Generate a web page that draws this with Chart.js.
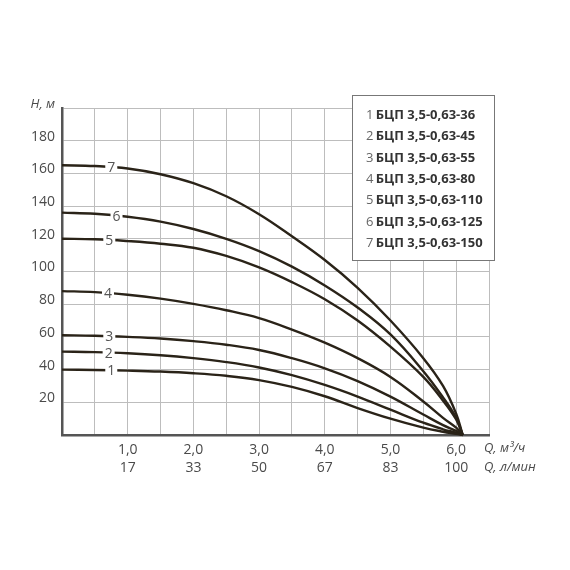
<!DOCTYPE html>
<html>
<head>
<meta charset="utf-8">
<script src="https://cdn.jsdelivr.net/npm/chart.js@4.4.0/dist/chart.umd.min.js"></script>
<style>
  html, body { margin: 0; padding: 0; background: #fff; }
  #wrap { width: 570px; height: 570px; }
</style>
</head>
<body>
<div id="wrap"><canvas id="pumpChart"></canvas></div>
<script>
// Q, m3/h
const flow = [0, 0.5, 1, 1.5, 2, 2.5, 3, 3.5, 4, 4.5, 5, 5.5, 5.8, 6.0, 6.1];
// H, m for each pump
const head1 = [40, 39.8, 39.4, 38.8, 37.8, 36.2, 33.6, 29.4, 23.7, 16.5, 10, 4.5, 2, 0.7, 0];
const head2 = [51, 50.7, 50, 48.8, 47, 44.6, 41.3, 36.6, 30.6, 23.5, 15.5, 7.5, 3.5, 1.3, 0];
const head3 = [61, 60.7, 60, 59, 57.4, 55.2, 52, 47, 40.8, 33, 23.5, 12.5, 6, 2.5, 0];
const head4 = [88, 87.4, 85.8, 83.4, 80.2, 76.3, 71.5, 64.5, 56.5, 47, 35.5, 20.5, 10.5, 4.5, 0];
const head5 = [120, 119.7, 118.6, 117, 114.5, 109.5, 102.5, 93.5, 83, 70, 54, 35.5, 21, 9.5, 0];
const head6 = [136, 135.3, 133.5, 130.5, 126, 120, 112.5, 103, 91.5, 78, 61.5, 39, 23, 10.5, 0];
const head7 = [165, 164.5, 163, 159.5, 154, 146, 135, 121.5, 107, 90, 70, 47, 30, 13, 0];

const models = [
  "БЦП 3,5-0,63-36",
  "БЦП 3,5-0,63-45",
  "БЦП 3,5-0,63-55",
  "БЦП 3,5-0,63-80",
  "БЦП 3,5-0,63-110",
  "БЦП 3,5-0,63-125",
  "БЦП 3,5-0,63-150"
];
// where the curve number sits (Q)
const labelFlow = [0.75, 0.71, 0.72, 0.7, 0.72, 0.83, 0.75];

const flowTicks = [1, 2, 3, 4, 5, 6];
const flowLpm = ["17", "33", "50", "67", "83", "100"];

const heads = [head1, head2, head3, head4, head5, head6, head7];
const lineColor = "#2a2318";
const textColor = "#4a4a4a";
const fontName = "'Open Sans', 'DejaVu Sans', sans-serif";

function headAt(h, q) {
  for (let i = 0; i < flow.length - 1; i++) {
    if (q >= flow[i] && q <= flow[i + 1]) {
      const t = (q - flow[i]) / (flow[i + 1] - flow[i]);
      return h[i] + (h[i + 1] - h[i]) * t;
    }
  }
  return h[h.length - 1];
}

const extras = {
  id: "extras",
  afterDatasetsDraw(chart) {
    const ctx = chart.ctx;
    const xs = chart.scales.x, ys = chart.scales.y;
    ctx.save();
    ctx.font = "14px " + fontName;
    ctx.textAlign = "center";
    ctx.textBaseline = "middle";
    heads.forEach(function (h, i) {
      const q = labelFlow[i];
      const px = xs.getPixelForValue(q);
      const py = ys.getPixelForValue(headAt(h, q));
      ctx.fillStyle = "#fff";
      ctx.fillRect(px - 6, py - 4, 12, 8);
      ctx.fillStyle = "#555";
      ctx.fillText(String(i + 1), px, py + 1);
    });
    ctx.restore();
  },
  afterDraw(chart) {
    const ctx = chart.ctx;
    const area = chart.chartArea;
    ctx.save();

    // axis titles
    ctx.fillStyle = textColor;
    ctx.font = "italic 13px " + fontName;
    ctx.textBaseline = "middle";
    ctx.textAlign = "right";
    ctx.fillText("H, м", area.left - 7, area.top - 4);
    ctx.textAlign = "left";
    ctx.fillText("Q, м³/ч", area.right - 5, area.bottom + 13);
    ctx.fillText("Q, л/мин", area.right - 5, area.bottom + 32);

    // legend box
    const bx = 352, by = 95, bw = 142, bh = 165;
    ctx.fillStyle = "#fff";
    ctx.fillRect(bx, by, bw, bh);
    ctx.strokeStyle = "#777";
    ctx.lineWidth = 1;
    ctx.strokeRect(bx + 0.5, by + 0.5, bw, bh);
    models.forEach(function (m, i) {
      const ty = by + 20 + i * 21.4;
      ctx.font = "13px " + fontName;
      ctx.fillStyle = "#666";
      ctx.fillText(String(i + 1), bx + 14, ty);
      const nw = ctx.measureText(String(i + 1) + " ").width;
      ctx.font = "bold 13px " + fontName;
      ctx.fillStyle = "#333";
      ctx.fillText(m, bx + 14 + nw - 1, ty);
    });
    ctx.restore();
  }
};

const ctx = document.getElementById("pumpChart").getContext("2d");

new Chart(ctx, {
  type: "line",
  data: {
    datasets: heads.map(function (h, i) {
      return {
        label: models[i],
        data: flow.map(function (q, j) { return { x: q, y: h[j] }; }),
        borderColor: lineColor,
        borderWidth: 2.4,
        pointRadius: 0,
        tension: 0.4,
        fill: false,
        clip: false
      };
    })
  },
  options: {
    responsive: true,
    maintainAspectRatio: false,
    animation: false,
    events: [],
    layout: {
      padding: { left: 0, top: 108, right: 81, bottom: 0 }
    },
    scales: {
      x: {
        type: "linear",
        min: 0,
        max: 6.5,
        afterFit: function (scale) { scale.height = 135; },
        ticks: {
          stepSize: 0.5,
          autoSkip: false,
          maxRotation: 0,
          padding: 6,
          color: textColor,
          font: { size: 14, family: fontName, lineHeight: 1.3 },
          callback: function (value) {
            const k = flowTicks.indexOf(value);
            if (k < 0) return "";
            return [value.toFixed(1).replace(".", ","), flowLpm[k]];
          }
        },
        grid: { color: "#bdbdbd", lineWidth: 1, drawTicks: false },
        border: { color: "#555", width: 2.5 }
      },
      y: {
        min: 0,
        max: 200,
        afterFit: function (scale) { scale.width = 62; },
        ticks: {
          stepSize: 20,
          padding: 7,
          labelOffset: -4,
          color: textColor,
          font: { size: 14, family: fontName },
          callback: function (value) {
            if (value === 0 || value === 200) return "";
            return value;
          }
        },
        grid: { color: "#bdbdbd", lineWidth: 1, drawTicks: false },
        border: { color: "#555", width: 2.5 }
      }
    },
    plugins: {
      legend: { display: false },
      tooltip: { enabled: false },
      title: { display: false }
    }
  },
  plugins: [extras]
});
</script>
</body>
</html>
